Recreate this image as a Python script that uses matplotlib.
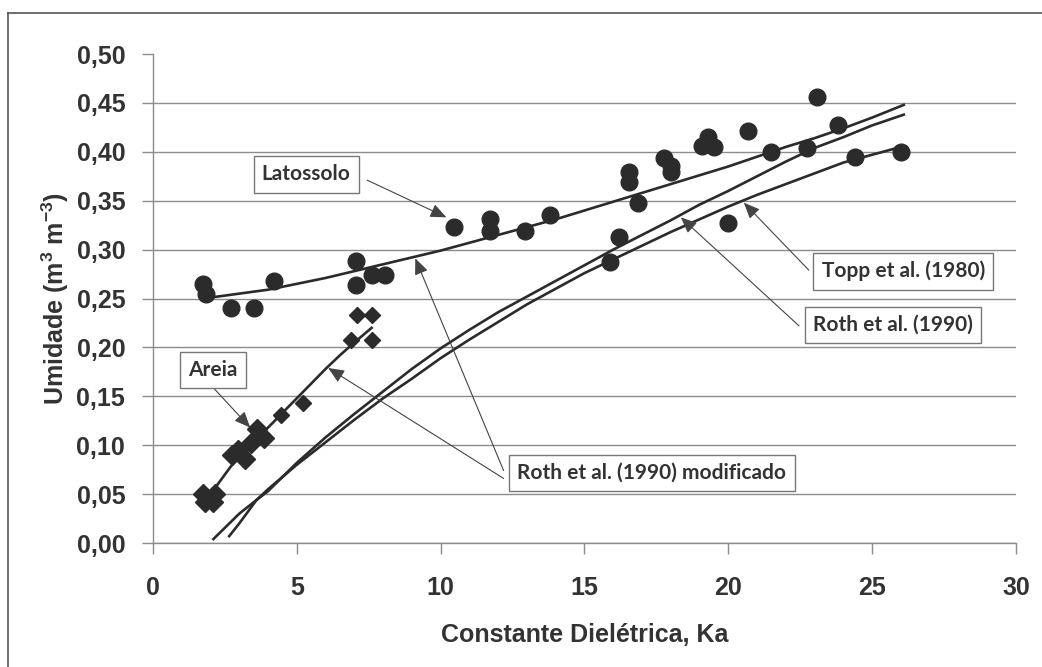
import matplotlib
matplotlib.use("Agg")
import matplotlib.pyplot as plt
from matplotlib.lines import Line2D

plt.rcParams["font.family"] = ["Liberation Sans", "DejaVu Sans"]
plt.rcParams["mathtext.fontset"] = "custom"
plt.rcParams["mathtext.bf"] = "Liberation Sans:bold"
plt.rcParams["mathtext.rm"] = "Liberation Sans"

# ── data ──────────────────────────────────────────────────────────────────────

# Latossolo measurements (circles)
lat_k = [1.75, 1.85, 2.7, 3.5, 4.2, 7.05, 7.05, 7.6, 8.05, 10.45, 11.7, 11.7,
         12.95, 13.8, 15.9, 16.2, 16.55, 16.55, 16.85, 17.75, 18.0, 18.0,
         19.1, 19.3, 19.5, 20.0, 20.7, 21.5, 22.75, 23.1, 23.8, 24.4, 26.0]
lat_y = [0.265, 0.255, 0.240, 0.240, 0.268, 0.288, 0.264, 0.274, 0.274, 0.323,
         0.331, 0.319, 0.319, 0.335, 0.287, 0.313, 0.379, 0.369, 0.348, 0.394,
         0.386, 0.379, 0.406, 0.415, 0.405, 0.327, 0.421, 0.400, 0.404, 0.456,
         0.427, 0.395, 0.400]

# Areia measurements (diamonds) - low-Ka points are drawn with bigger markers
areia_big_k = [1.75, 2.15, 1.8, 2.1, 2.75, 2.95, 3.2, 3.4, 3.6, 3.85]
areia_big_y = [0.050, 0.050, 0.042, 0.042, 0.090, 0.095, 0.086, 0.102, 0.117, 0.107]
areia_k = [4.45, 5.2, 6.9, 7.6, 7.1, 7.6]
areia_y = [0.131, 0.143, 0.208, 0.208, 0.233, 0.233]

# Roth et al. (1990) modificado - Latossolo
rmod_lat_k = [2.0, 3, 4, 5, 6, 7, 8, 9, 10, 11, 12, 13, 14, 15, 16, 17, 18,
              19, 20, 21, 22, 23, 24, 25, 26.1]
rmod_lat_y = [0.251, 0.255, 0.259, 0.265, 0.271, 0.278, 0.285, 0.292, 0.299,
              0.307, 0.315, 0.323, 0.331, 0.340, 0.349, 0.358, 0.367, 0.376,
              0.385, 0.395, 0.405, 0.414, 0.424, 0.435, 0.448]

# Roth et al. (1990) modificado - Areia
rmod_are_k = [1.8, 2.1, 2.7, 3.0, 3.5, 4.0, 4.5, 5.0, 5.5, 6.0, 6.5, 7.0, 7.6]
rmod_are_y = [0.045, 0.054, 0.078, 0.088, 0.104, 0.118, 0.133, 0.148, 0.163,
              0.178, 0.192, 0.205, 0.220]

# Roth et al. (1990)
roth_k = [2.65, 3.0, 3.6, 4, 5, 6, 7, 8, 9, 10, 11, 12, 13, 14, 15, 16, 17,
          18, 19, 20, 21, 22, 23, 24, 25, 26.1]
roth_y = [0.007, 0.020, 0.044, 0.053, 0.082, 0.108, 0.132, 0.155, 0.178, 0.199,
          0.218, 0.236, 0.252, 0.268, 0.284, 0.300, 0.315, 0.330, 0.346, 0.360,
          0.375, 0.390, 0.404, 0.415, 0.427, 0.438]

# Topp et al. (1980)
topp_k = [2.1, 3.0, 3.6, 4, 5, 6, 7, 8, 9, 10, 11, 12, 13, 14, 15, 16, 17, 18,
          19, 20, 21, 22, 23, 24, 25, 26.0]
topp_y = [0.004, 0.030, 0.044, 0.055, 0.080, 0.103, 0.126, 0.148, 0.168, 0.189,
          0.208, 0.226, 0.244, 0.260, 0.276, 0.290, 0.304, 0.318, 0.331, 0.344,
          0.356, 0.367, 0.378, 0.389, 0.397, 0.405]

x_ticks = [0, 5, 10, 15, 20, 25, 30]
y_ticks = [0.00, 0.05, 0.10, 0.15, 0.20, 0.25, 0.30, 0.35, 0.40, 0.45, 0.50]
y_tick_labels = ["0,00", "0,05", "0,10", "0,15", "0,20", "0,25", "0,30",
                 "0,35", "0,40", "0,45", "0,50"]

# ── figure ────────────────────────────────────────────────────────────────────

INK  = "#2b2b2b"
TEXT = "#333333"
GRID = "#8c8c8c"

fig = plt.figure(figsize=(10.42, 6.67), dpi=100)
ax = fig.add_axes([0.1468, 0.1859, 0.8282, 0.7331])

# outer frame (only top and left edges are inside the scan)
fig.add_artist(Line2D([0.0077, 1.0], [0.9805, 0.9805], color="#555555", lw=1.2))
fig.add_artist(Line2D([0.0077, 0.0077], [0.0, 0.9805], color="#555555", lw=1.2))

ax.plot(rmod_lat_k, rmod_lat_y, color=INK, lw=1.9, zorder=4)
ax.plot(rmod_are_k, rmod_are_y, color=INK, lw=1.9, zorder=4)
ax.plot(roth_k, roth_y, color=INK, lw=1.9, zorder=4)
ax.plot(topp_k, topp_y, color=INK, lw=1.9, zorder=4)

ax.plot(lat_k, lat_y, "o", color=INK, ms=12, mec=INK, zorder=3)
ax.plot(areia_big_k, areia_big_y, "D", color=INK, ms=10, mec=INK, zorder=3)
ax.plot(areia_k, areia_y, "D", color=INK, ms=8, mec=INK, zorder=3)

ax.set_xlim(0, 30)
ax.set_ylim(0, 0.5)
ax.set_xticks(x_ticks)
ax.set_yticks(y_ticks)
ax.set_yticklabels(y_tick_labels)

ax.grid(axis="y", color=GRID, lw=1.0, zorder=0)
ax.get_ygridlines()[-1].set_visible(False)
ax.set_axisbelow(True)

for side in ("top", "right"):
    ax.spines[side].set_visible(False)
for side in ("left", "bottom"):
    ax.spines[side].set_color(GRID)
    ax.spines[side].set_linewidth(1.0)

ax.tick_params(axis="both", direction="out", length=8, width=1.0, color=GRID,
               labelsize=18, labelcolor=TEXT)
ax.tick_params(axis="y", pad=12)
ax.tick_params(axis="x", pad=16)
for lbl in ax.get_xticklabels() + ax.get_yticklabels():
    lbl.set_fontweight("bold")

ax.set_xlabel("Constante Dielétrica, Ka", fontsize=18, fontweight="bold",
              color=TEXT, labelpad=16)
ax.set_ylabel(r"Umidade (m$^{\mathbf{3}}$ m$^{\mathbf{-3}}$)", fontsize=18,
              fontweight="bold", color=TEXT, labelpad=4)

# ── callouts ──────────────────────────────────────────────────────────────────

box = dict(boxstyle="square,pad=0.4", fc="white", ec="#777777", lw=1.0)
note_font = dict(family=["Lato", "DejaVu Sans"], fontsize=15, fontweight="bold",
                 color=TEXT, ha="center", va="center", zorder=6)

ax.text(5.33, 0.377, "Latossolo", bbox=box, **note_font)
ax.text(2.09, 0.177, "Areia", bbox=box, **note_font)
ax.text(17.34, 0.0715, "Roth et al. (1990) modificado", bbox=box, **note_font)
ax.text(26.08, 0.278, "Topp et al. (1980)", bbox=box, **note_font)
ax.text(25.73, 0.223, "Roth et al. (1990)", bbox=box, **note_font)

arrow = dict(arrowstyle="-|>,head_length=0.7,head_width=0.3", color="#444444",
             lw=0.8, mutation_scale=14, shrinkA=0, shrinkB=0)
for tail, tip in [((7.45, 0.371), (10.2, 0.333)),
                  ((2.09, 0.159), (3.38, 0.118)),
                  ((12.19, 0.074), (9.12, 0.291)),
                  ((12.19, 0.066), (6.09, 0.179)),
                  ((22.8, 0.279), (20.54, 0.348)),
                  ((22.46, 0.222), (18.35, 0.333))]:
    ax.annotate("", xy=tip, xytext=tail, arrowprops=arrow, zorder=5)

fig.savefig("out.png", dpi=100)
